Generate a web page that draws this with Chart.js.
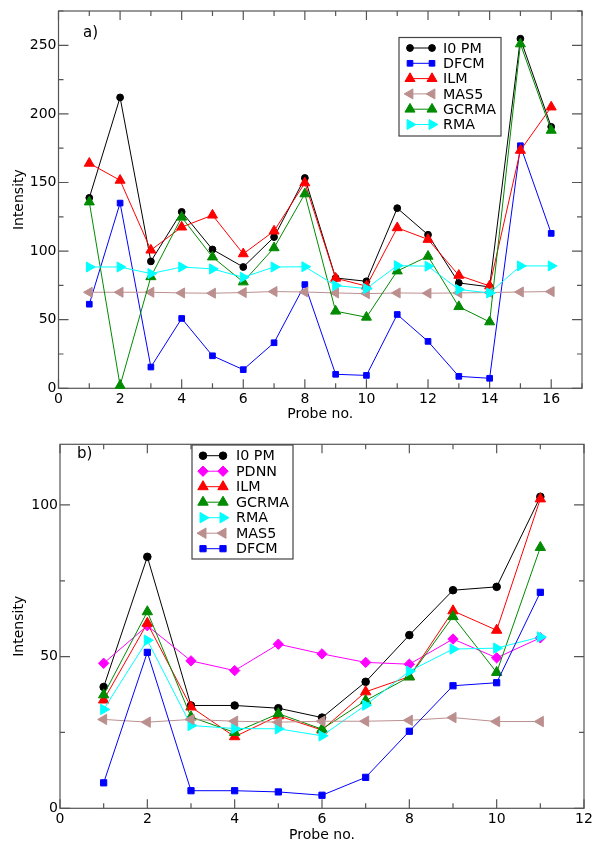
<!DOCTYPE html>
<html>
<head>
<meta charset="utf-8">
<script src="https://cdn.jsdelivr.net/npm/chart.js@4/dist/chart.umd.min.js"></script>
<style>
  html, body { margin: 0; padding: 0; background: #fff; }
  #wrap { width: 600px; height: 848px; position: relative; }
  canvas { display: block; }
</style>
</head>
<body>
<div id="wrap">
  <canvas id="chartA" width="600" height="424"></canvas>
  <canvas id="chartB" width="600" height="424"></canvas>
</div>
<script>
// panel a) - 16 probes
const probesA = [1, 2, 3, 4, 5, 6, 7, 8, 9, 10, 11, 12, 13, 14, 15, 16];
const a_I0PM  = [138.8, 212, 92.5, 128.6, 101.2, 88.4, 110.2, 153.3, 80.4, 78, 131.3, 111.9, 76.8, 73.9, 254.8, 190.6];
const a_DFCM  = [61.3, 135, 15.5, 50.9, 23.7, 13.6, 33.2, 75.6, 10.2, 9.4, 53.8, 34.2, 8.7, 7.3, 176.8, 112.9];
const a_ILM   = [164, 151.6, 100.7, 117.5, 126.2, 98, 114.6, 149.7, 80.2, 74.5, 117, 108.5, 82.3, 74.6, 173.4, 205];
const a_MAS5  = [70, 70, 70, 69.5, 69.3, 69.8, 70.5, 70.2, 69.5, 69, 69.5, 69.3, 69.5, 69.8, 70.2, 70.5];
const a_GCRMA = [135.8, 2, 81.3, 124.7, 95.7, 77.5, 102.4, 141.7, 56.2, 51.8, 85.5, 96.2, 59.5, 48.4, 251, 188];
const a_RMA   = [88.4, 88.4, 83.6, 88.4, 87, 80.9, 88.4, 88.6, 74.9, 72.7, 89.4, 89, 72, 69.5, 89.2, 89.2];
const xTicksA = [0, 2, 4, 6, 8, 10, 12, 14, 16];
const yTicksA = [0, 50, 100, 150, 200, 250];

// panel b) - 11 probes
const probesB = [1, 2, 3, 4, 5, 6, 7, 8, 9, 10, 11];
const b_I0PM  = [40, 82.9, 33.9, 33.9, 33, 29.9, 41.7, 57.1, 71.9, 73, 102.7];
const b_PDNN  = [47.8, 60.2, 48.6, 45.4, 54.1, 50.9, 48.1, 47.5, 55.8, 49.6, 56.2];
const b_ILM   = [35.7, 61, 33.4, 23.6, 30.5, 25.8, 38.4, 43.4, 65.1, 58.7, 102];
const b_GCRMA = [37.4, 64.8, 30.1, 25, 31.2, 26.1, 35.5, 43.3, 63.2, 44.8, 86];
const b_RMA   = [32.6, 55.4, 27.3, 26.3, 26.2, 23.9, 34, 45.2, 52.5, 52.8, 56.5];
const b_MAS5  = [29.3, 28.4, 29.3, 28.7, 28.4, 28.7, 28.7, 29, 29.9, 28.6, 28.6];
const b_DFCM  = [8.4, 51.4, 5.8, 5.8, 5.4, 4.3, 10.2, 25.4, 40.4, 41.4, 71.2];
const xTicksB = [0, 2, 4, 6, 8, 10, 12];
const yTicksB = [0, 50, 100];

const FONT = 'DejaVu Sans';
Chart.defaults.font.family = FONT;
Chart.defaults.font.size = 14;
Chart.defaults.color = '#000';

function ds(label, xs, ys, color, style, r, rot, i) {
  return {
    label: label,
    data: xs.map((x, k) => ({ x: x, y: ys[k] })),
    borderColor: color,
    backgroundColor: color,
    pointBackgroundColor: color,
    pointBorderColor: color,
    borderWidth: 1,
    pointBorderWidth: 1,
    pointStyle: style,
    pointRadius: r,
    pointHoverRadius: r,
    pointRotation: rot,
    tension: 0,
    clip: false,
    order: -i
  };
}

// marker for the legend, same shapes chart.js uses
function marker(ctx, style, r, rot, x, y) {
  ctx.save();
  ctx.translate(x, y);
  ctx.rotate(rot * Math.PI / 180);
  ctx.beginPath();
  if (style === 'circle') {
    ctx.arc(0, 0, r, 0, Math.PI * 2);
  } else if (style === 'rect') {
    const s = Math.SQRT1_2 * r;
    ctx.rect(-s, -s, 2 * s, 2 * s);
  } else if (style === 'rectRot') {
    ctx.moveTo(0, -r); ctx.lineTo(r, 0); ctx.lineTo(0, r); ctx.lineTo(-r, 0);
  } else if (style === 'triangle') {
    for (let k = 0; k < 3; k++) {
      const a = k * 2 * Math.PI / 3;
      const px = Math.sin(a) * r, py = -Math.cos(a) * r;
      if (k === 0) ctx.moveTo(px, py); else ctx.lineTo(px, py);
    }
  }
  ctx.closePath();
  ctx.fill();
  ctx.stroke();
  ctx.restore();
}

const framePlugin = {
  id: 'frame',
  beforeDatasetsDraw(chart, args, o) {
    const ctx = chart.ctx, a = chart.chartArea;
    const x = chart.scales.x, y = chart.scales.y;
    ctx.save();
    ctx.strokeStyle = '#555';
    ctx.lineWidth = 1.2;
    ctx.strokeRect(a.left, a.top, a.right - a.left, a.bottom - a.top);
    ctx.beginPath();
    for (let v = x.min; v <= x.max + 1e-9; v += o.xMinor) {
      const px = x.getPixelForValue(v);
      const len = Math.abs(v % o.xMajor) < 1e-9 ? 9 : 5;
      ctx.moveTo(px, a.bottom); ctx.lineTo(px, a.bottom - len);
      ctx.moveTo(px, a.top); ctx.lineTo(px, a.top + len);
    }
    for (let v = y.min; v <= y.max + 1e-9; v += o.yMinor) {
      const py = y.getPixelForValue(v);
      const len = Math.abs(v % o.yMajor) < 1e-9 ? 10 : 5;
      ctx.moveTo(a.left, py); ctx.lineTo(a.left + len, py);
      ctx.moveTo(a.right, py); ctx.lineTo(a.right - len, py);
    }
    ctx.stroke();
    ctx.fillStyle = '#000';
    ctx.font = '15px "' + FONT + '"';
    ctx.textBaseline = 'middle';
    ctx.fillText(o.tag, o.tagX, o.tagY);
    ctx.restore();
  },
  afterDraw(chart, args, o) {
    const L = o.legend, ctx = chart.ctx;
    ctx.save();
    ctx.fillStyle = '#fff';
    ctx.fillRect(L.x, L.y, L.w, L.h);
    ctx.strokeStyle = '#444';
    ctx.lineWidth = 1.2;
    ctx.strokeRect(L.x, L.y, L.w, L.h);
    ctx.font = '14.3px "' + FONT + '"';
    ctx.textBaseline = 'middle';
    chart.data.datasets.forEach((d, i) => {
      const yy = L.row0 + i * L.gap;
      ctx.strokeStyle = d.borderColor;
      ctx.fillStyle = d.borderColor;
      ctx.lineWidth = 1;
      ctx.beginPath();
      ctx.moveTo(L.lx1, yy); ctx.lineTo(L.lx2, yy);
      ctx.stroke();
      marker(ctx, d.pointStyle, d.pointRadius, d.pointRotation, L.lx1, yy);
      marker(ctx, d.pointStyle, d.pointRadius, d.pointRotation, L.lx2, yy);
      ctx.fillStyle = '#000';
      ctx.fillText(d.label, L.tx, yy + 1);
    });
    ctx.restore();
  }
};

function makeChart(id, datasets, sc, panel) {
  return new Chart(document.getElementById(id), {
    type: 'line',
    data: { datasets: datasets },
    plugins: [framePlugin],
    options: {
      responsive: false,
      animation: false,
      events: [],
      layout: { padding: { top: sc.padTop, right: sc.padRight, left: 0, bottom: 0 } },
      plugins: { legend: { display: false }, tooltip: { enabled: false }, frame: panel },
      scales: {
        x: {
          type: 'linear', min: sc.xMin, max: sc.xMax,
          afterBuildTicks: s => { s.ticks = sc.xTicks.map(v => ({ value: v })); },
          afterFit: s => { s.height = sc.xH; },
          grid: { display: false, drawTicks: false },
          border: { display: false },
          ticks: { padding: 3, maxRotation: 0, autoSkip: false, font: { size: 14 } },
          title: { display: true, text: 'Probe no.', font: { size: 14 }, padding: { top: 0, bottom: sc.xTitlePad } }
        },
        y: {
          type: 'linear', min: sc.yMin, max: sc.yMax,
          afterBuildTicks: s => { s.ticks = sc.yTicks.map(v => ({ value: v })); },
          afterFit: s => { s.width = sc.yW; },
          grid: { display: false, drawTicks: false },
          border: { display: false },
          ticks: { padding: 2, font: { size: 14 } },
          title: { display: true, text: 'Intensity', font: { size: 14 }, padding: { top: 11, bottom: 0 } }
        }
      }
    }
  });
}

makeChart('chartA', [
  ds('I0 PM', probesA, a_I0PM, '#000000', 'circle', 3.4, 0, 0),
  ds('DFCM', probesA, a_DFCM, '#0000ff', 'rect', 4, 0, 1),
  ds('ILM', probesA, a_ILM, '#ff0000', 'triangle', 5.8, 0, 2),
  ds('MAS5', probesA, a_MAS5, '#bc8f8f', 'triangle', 5.8, 270, 3),
  ds('GCRMA', probesA, a_GCRMA, '#008b00', 'triangle', 5.8, 0, 4),
  ds('RMA', probesA, a_RMA, '#00ffff', 'triangle', 5.8, 90, 5)
], {
  xMin: 0, xMax: 17, yMin: 0, yMax: 275, xTicks: xTicksA, yTicks: yTicksA,
  padTop: 11, padRight: 18, xH: 35.7, yW: 58.5, xTitlePad: 1
}, {
  xMinor: 1, xMajor: 2, yMinor: 25, yMajor: 50,
  tag: 'a)', tagX: 83, tagY: 33,
  legend: { x: 399, y: 37.5, w: 102, h: 98.5, row0: 48, gap: 15.3, lx1: 410, lx2: 432, tx: 443 }
});

makeChart('chartB', [
  ds('I0 PM', probesB, b_I0PM, '#000000', 'circle', 3.8, 0, 0),
  ds('PDNN', probesB, b_PDNN, '#ff00ff', 'rectRot', 5.2, 0, 1),
  ds('ILM', probesB, b_ILM, '#ff0000', 'triangle', 6, 0, 2),
  ds('GCRMA', probesB, b_GCRMA, '#008b00', 'triangle', 6, 0, 3),
  ds('RMA', probesB, b_RMA, '#00ffff', 'triangle', 6, 90, 4),
  ds('MAS5', probesB, b_MAS5, '#bc8f8f', 'triangle', 6, 270, 5),
  ds('DFCM', probesB, b_DFCM, '#0000ff', 'rect', 4.4, 0, 6)
], {
  xMin: 0, xMax: 12, yMin: 0, yMax: 120, xTicks: xTicksB, yTicks: yTicksB,
  padTop: 20.3, padRight: 16, xH: 39.7, yW: 60, xTitlePad: 4
}, {
  xMinor: 1, xMajor: 2, yMinor: 25, yMajor: 50,
  tag: 'b)', tagX: 77, tagY: 30,
  legend: { x: 192, y: 21, w: 101, h: 114, row0: 31.7, gap: 15.5, lx1: 203, lx2: 223, tx: 236 }
});
</script>
</body>
</html>
